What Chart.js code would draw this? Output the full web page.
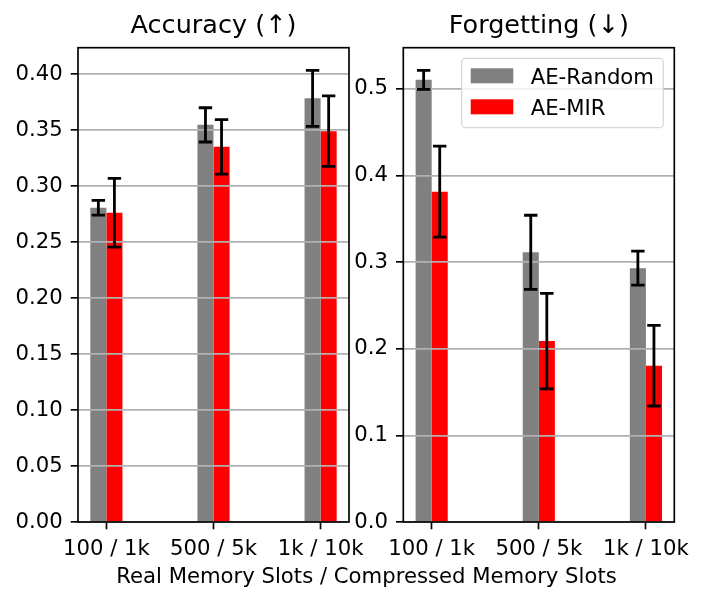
<!DOCTYPE html>
<html>
<head>
<meta charset="utf-8">
<script src="https://cdn.jsdelivr.net/npm/chart.js@4.4.0/dist/chart.umd.min.js"></script>
<style>
  body { margin: 0; background: #fff; }
  #wrap { position: relative; width: 705px; height: 604px; overflow: hidden; font-family: "DejaVu Sans"; }
  .panel { position: absolute; top: 0; height: 604px; }
  #p1 { left: 0; width: 385px; }
  #p2 { left: 352px; width: 353px; }
  #xlabel { position: absolute; left: 366.5px; top: 565.4px; transform: translateX(-50%);
            white-space: nowrap; font-size: 21.2px; line-height: 21.2px; color: #000; }
</style>
</head>
<body>
<div id="wrap">
  <div class="panel" id="p1"><canvas id="accuracyChart"></canvas></div>
  <div class="panel" id="p2"><canvas id="forgettingChart"></canvas></div>
  <div id="xlabel">Real Memory Slots / Compressed Memory Slots</div>
</div>
<script>
const categories = ['100 / 1k', '500 / 5k', '1k / 10k'];
const seriesNames = ['AE-Random', 'AE-MIR'];
const seriesColors = ['#808080', '#ff0000'];

const accuracyRandom = [0.2806, 0.3546, 0.3783];
const accuracyRandomErr = [0.0066, 0.0153, 0.0250];
const accuracyMir = [0.2762, 0.3350, 0.3490];
const accuracyMirErr = [0.0307, 0.0243, 0.0314];

const forgettingRandom = [0.5103, 0.3112, 0.2930];
const forgettingRandomErr = [0.0110, 0.0428, 0.0196];
const forgettingMir = [0.3812, 0.2088, 0.1804];
const forgettingMirErr = [0.0525, 0.0551, 0.0465];

const accuracyTicks = [0.00, 0.05, 0.10, 0.15, 0.20, 0.25, 0.30, 0.35, 0.40];
const forgettingTicks = [0.0, 0.1, 0.2, 0.3, 0.4, 0.5];

const FONT = 'DejaVu Sans';
const TICK_SIZE = 21.2;

// error bars, the closed axes frame and the inset legend
const panelDecor = {
    id: 'panelDecor',
    afterDraw(chart, args, opts) {
        const ctx = chart.ctx;
        const area = chart.chartArea;
        const yScale = chart.scales.y;
        const cap = 6.7;
        ctx.save();

        ctx.strokeStyle = '#000';
        ctx.lineWidth = 2.8;
        chart.data.datasets.forEach((ds, i) => {
            const meta = chart.getDatasetMeta(i);
            meta.data.forEach((bar, j) => {
                const v = ds.data[j].y;
                const e = ds.errors[j];
                const top = yScale.getPixelForValue(v + e);
                const bot = yScale.getPixelForValue(v - e);
                ctx.beginPath();
                ctx.moveTo(bar.x, top); ctx.lineTo(bar.x, bot);
                ctx.moveTo(bar.x - cap, top); ctx.lineTo(bar.x + cap, top);
                ctx.moveTo(bar.x - cap, bot); ctx.lineTo(bar.x + cap, bot);
                ctx.stroke();
            });
        });

        ctx.lineWidth = 1.67;
        ctx.strokeRect(area.left, area.top, area.right - area.left, area.bottom - area.top);

        if (opts.legend) {
            const w = 201.6, h = 69.4, r = 4;
            const bx = area.right - 11 - w;
            const by = area.top + 10.6;
            ctx.beginPath();
            ctx.moveTo(bx + r, by);
            ctx.arcTo(bx + w, by, bx + w, by + h, r);
            ctx.arcTo(bx + w, by + h, bx, by + h, r);
            ctx.arcTo(bx, by + h, bx, by, r);
            ctx.arcTo(bx, by, bx + w, by, r);
            ctx.closePath();
            ctx.fillStyle = 'rgba(255,255,255,0.8)';
            ctx.fill();
            ctx.strokeStyle = 'rgba(204,204,204,0.8)';
            ctx.lineWidth = 1.2;
            ctx.stroke();

            ctx.font = TICK_SIZE + 'px "' + FONT + '"';
            ctx.textBaseline = 'alphabetic';
            ctx.textAlign = 'left';
            chart.data.datasets.forEach((ds, i) => {
                const hy = by + 10 + i * 31;
                ctx.fillStyle = ds.backgroundColor;
                ctx.fillRect(bx + 9, hy, 42.6, 15);
                ctx.fillStyle = '#000';
                ctx.fillText(ds.label, bx + 69, hy + 7.5 + 0.365 * TICK_SIZE);
            });
        }
        ctx.restore();
    }
};

function makePanel(canvasId, titleText, values, errors, yTicks, yMax, decimals, yWidth, padRight, showLegend) {
    const datasets = values.map((vals, i) => ({
        label: seriesNames[i],
        data: vals.map((v, j) => ({ x: j, y: v })),
        errors: errors[i],
        backgroundColor: seriesColors[i],
        borderWidth: 0,
        categoryPercentage: 0.3,
        barPercentage: 1.0
    }));

    return new Chart(document.getElementById(canvasId), {
        type: 'bar',
        data: { datasets: datasets },
        options: {
            responsive: true,
            maintainAspectRatio: false,
            animation: false,
            layout: { padding: { left: 0, right: padRight, top: 0, bottom: 0 } },
            plugins: {
                legend: { display: false },
                tooltip: { enabled: false },
                title: {
                    display: true,
                    text: titleText,
                    fullSize: false,
                    color: '#000',
                    font: { family: FONT, size: 25.5, weight: 'normal', lineHeight: 1.2 },
                    padding: { top: 11.5, bottom: 5.6 }
                },
                panelDecor: { legend: showLegend }
            },
            scales: {
                x: {
                    type: 'linear',
                    min: -0.265,
                    max: 2.265,
                    offset: false,
                    bounds: 'data',
                    afterBuildTicks: (scale) => { scale.ticks = categories.map((c, i) => ({ value: i })); },
                    afterFit: (scale) => { scale.height = 82; },
                    grid: { offset: false, drawOnChartArea: false, drawTicks: true, tickLength: 7.3, tickColor: '#000', tickWidth: 1.67 },
                    border: { display: false },
                    ticks: {
                        color: '#000',
                        padding: 7,
                        maxRotation: 0,
                        autoSkip: false,
                        font: { family: FONT, size: TICK_SIZE },
                        callback: (v) => categories[v]
                    }
                },
                y: {
                    min: 0,
                    max: yMax,
                    afterBuildTicks: (scale) => { scale.ticks = yTicks.map(v => ({ value: v })); },
                    afterFit: (scale) => { scale.width = yWidth; },
                    grid: { z: 1, color: '#b0b0b0', lineWidth: 1.67, tickLength: 7.3, tickColor: '#000', tickWidth: 1.67 },
                    border: { display: false },
                    ticks: {
                        color: '#000',
                        padding: 8,
                        autoSkip: false,
                        font: { family: FONT, size: TICK_SIZE },
                        callback: (v) => v.toFixed(decimals)
                    }
                }
            }
        },
        plugins: [panelDecor]
    });
}

makePanel('accuracyChart', 'Accuracy (\u2191)',
    [accuracyRandom, accuracyMir], [accuracyRandomErr, accuracyMirErr],
    accuracyTicks, 0.4235, 2, 78, 36, false);

makePanel('forgettingChart', 'Forgetting (\u2193)',
    [forgettingRandom, forgettingMir], [forgettingRandomErr, forgettingMirErr],
    forgettingTicks, 0.5474, 1, 51.3, 30.7, true);
</script>
</body>
</html>
